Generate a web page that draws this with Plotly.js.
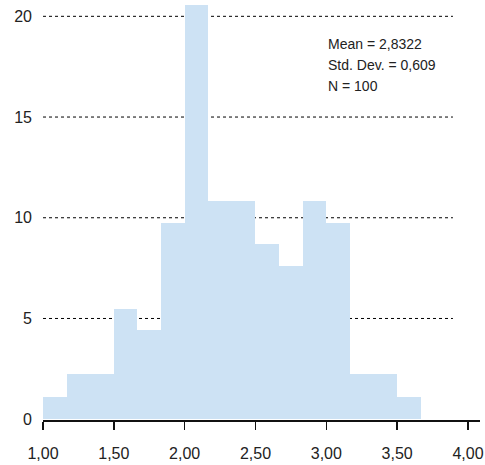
<!DOCTYPE html>
<html>
<head>
<meta charset="utf-8">
<script src="https://cdn.plot.ly/plotly-3.0.1.min.js"></script>
<style>html,body{margin:0;padding:0;background:#fff;}#chart{width:485px;height:465px;}</style>
</head>
<body>
<div id="chart"></div>
<script>
// Histogram bins (lower edges) and bar heights
const binStarts = [1.0000, 1.1667, 1.3333, 1.5000, 1.6667, 1.8333, 2.0000, 2.1667,
                   2.3333, 2.5000, 2.6667, 2.8333, 3.0000, 3.1667, 3.3333, 3.5000];
const binWidth = 0.1667;
const heights = [1.08, 2.26, 2.26, 5.49, 4.41, 9.76, 20.55, 10.81,
                 10.81, 8.70, 7.62, 10.81, 9.76, 2.26, 2.26, 1.08];
const xTicks = [1.0, 1.5, 2.0, 2.5, 3.0, 3.5, 4.0];
const yTicks = [0, 5, 10, 15, 20];
const gridValues = [5, 10, 15, 20];
const statsLines = ["Mean = 2,8322", "Std. Dev. = 0,609", "N = 100"];

const barColor = "#cde2f4";
const fontFamily = "'Liberation Sans', Arial, sans-serif";

const trace = {
  type: "bar",
  x: binStarts,
  y: heights,
  width: binWidth,
  offset: 0,
  marker: {color: barColor, line: {width: 0}},
  hoverinfo: "none"
};

const shapes = gridValues.map(v => ({
  type: "line", layer: "below",
  xref: "x", yref: "y",
  x0: 1.0, x1: 3.894, y0: v, y1: v,
  line: {color: "#000", width: 1, dash: "dot"}
}));

const statsY = [0.8945, 0.8452, 0.7964];
const annotations = statsLines.map((t, i) => ({
  text: t, xref: "paper", yref: "paper",
  x: 0.647, y: statsY[i], xanchor: "left", yanchor: "middle",
  showarrow: false, align: "left",
  font: {family: fontFamily, size: 14, color: "#222"}
}));

const layout = {
  width: 485, height: 465,
  margin: {l: 43, r: 5, t: 0, b: 45, pad: 0},
  paper_bgcolor: "#fff", plot_bgcolor: "#fff",
  separators: ",.",
  showlegend: false,
  bargap: 0,
  xaxis: {
    range: [1.0, 4.085],
    tickvals: xTicks,
    tickformat: ".2f",
    ticks: "outside", ticklen: 8, tickwidth: 1.5, tickcolor: "#111",
    showline: true, linecolor: "#111", linewidth: 1.5,
    showgrid: false, zeroline: false,
    ticklabelstandoff: 10,
    tickfont: {family: fontFamily, size: 16, color: "#222"}
  },
  xaxis2: {
    overlaying: "x", anchor: "y", side: "bottom",
    range: [1.0, 4.085],
    tickvals: xTicks,
    ticks: "inside", ticklen: 5, tickwidth: 1.5, tickcolor: "#111",
    showticklabels: false, showline: false, showgrid: false, zeroline: false
  },
  yaxis: {
    range: [-0.04, 20.81],
    tickvals: yTicks,
    ticks: "", showline: false, showgrid: false, zeroline: false,
    ticklabelstandoff: 10,
    tickfont: {family: fontFamily, size: 16, color: "#222"}
  },
  shapes: shapes,
  annotations: annotations
};

Plotly.newPlot("chart", [trace], layout, {staticPlot: true, displayModeBar: false});
</script>
</body>
</html>
